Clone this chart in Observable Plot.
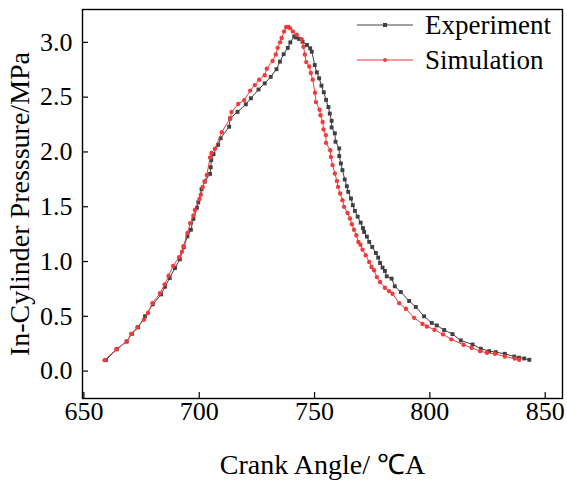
<!DOCTYPE html>
<html><head><meta charset="utf-8">
<script src="https://cdn.jsdelivr.net/npm/d3@7"></script>
<script src="https://cdn.jsdelivr.net/npm/@observablehq/plot@0.6"></script>
<style>body{margin:0;background:#fff;}</style>
</head><body><div id="chart"></div>
<script>
const expAngle = [659.5,664.3,668.5,670.8,673.5,676.5,679.9,683.5,685.2,687.2,689.5,691.6,693.3,694.9,696.4,697.5,699.0,699.6,701.0,702.4,704.7,705.0,705.2,706.2,708.2,709.3,713.0,713.4,716.6,720.2,722.4,725.7,728.4,731.0,733.5,735.0,736.6,738.4,739.5,741.2,741.9,743.3,744.8,746.7,748.1,748.8,750.1,751.0,752.0,753.0,754.0,755.0,756.0,756.6,757.4,757.4,758.8,759.1,760.7,760.7,761.4,762.1,763.1,764.0,764.6,765.8,766.6,767.5,768.7,770.0,771.0,771.5,772.7,773.7,775.0,776.6,777.6,778.4,779.5,780.5,781.3,783.4,784.8,787.4,791.0,793.9,797.5,800.8,803.0,806.2,809.8,813.4,818.5,822.1,825.7,828.6,832.5,836.6,838.7,840.9,843.1];
const expPressure = [0.10,0.20,0.27,0.34,0.40,0.50,0.61,0.70,0.77,0.85,0.94,1.02,1.13,1.23,1.29,1.39,1.49,1.54,1.66,1.73,1.80,1.86,1.925,1.98,2.065,2.125,2.23,2.305,2.366,2.435,2.49,2.57,2.626,2.685,2.755,2.824,2.892,2.95,3.00,3.055,3.045,3.031,3.006,2.976,2.946,2.915,2.793,2.726,2.672,2.605,2.545,2.475,2.41,2.35,2.284,2.224,2.170,2.093,2.032,1.962,1.895,1.834,1.749,1.687,1.636,1.575,1.514,1.462,1.41,1.355,1.305,1.270,1.227,1.179,1.133,1.078,1.036,0.987,0.945,0.914,0.865,0.844,0.774,0.722,0.640,0.585,0.500,0.44,0.417,0.375,0.338,0.280,0.243,0.204,0.182,0.173,0.158,0.133,0.122,0.115,0.103];
const simAngle = [659.0,664.1,668.6,670.5,673.2,676.1,677.8,679.7,683.0,685.0,686.7,688.7,691.3,692.5,693.2,694.9,696.1,697.5,698.1,700.1,700.7,701.5,702.4,703.3,704.7,705.3,706.8,709.8,713.5,714.0,716.9,719.5,722.1,724.1,726.0,728.4,729.3,731.8,733.2,734.0,735.1,735.7,736.8,737.7,738.7,739.4,740.6,742.3,744.4,745.2,745.8,746.4,747.7,748.4,749.2,750.2,750.6,752.2,752.6,753.5,753.9,754.9,755.0,756.8,757.1,757.8,758.8,759.7,760.2,761.1,762.1,762.8,764.3,765.4,766.2,767.1,768.1,769.0,769.9,770.8,772.2,773.7,774.7,775.8,777.0,778.4,780.5,782.3,783.8,786.7,789.6,793.2,796.8,798.7,802.0,805.7,809.3,814.6,818.1,821.8,824.7,828.2,832.5,836.8,838.7];
const simPressure = [0.10,0.20,0.27,0.34,0.40,0.47,0.53,0.62,0.71,0.79,0.87,0.96,1.04,1.09,1.14,1.26,1.35,1.42,1.47,1.57,1.61,1.68,1.73,1.79,1.95,1.99,2.03,2.18,2.31,2.365,2.437,2.473,2.56,2.61,2.66,2.70,2.76,2.83,2.89,2.95,3.00,3.04,3.10,3.14,3.14,3.13,3.10,3.07,3.03,2.96,2.89,2.82,2.78,2.72,2.66,2.54,2.455,2.385,2.335,2.274,2.206,2.154,2.083,2.016,1.955,1.880,1.804,1.736,1.681,1.621,1.560,1.499,1.443,1.392,1.340,1.290,1.240,1.179,1.153,1.109,1.057,0.996,0.950,0.920,0.858,0.813,0.761,0.730,0.706,0.620,0.569,0.486,0.431,0.407,0.378,0.335,0.29,0.240,0.213,0.182,0.167,0.158,0.133,0.115,0.103];
const xTicks = [650, 700, 750, 800, 850];
const yTicks = [0, 0.5, 1.0, 1.5, 2.0, 2.5, 3.0];
const seriesNames = ["Experiment", "Simulation"];
const seriesColors = ["#404040", "#ef3b3b"];
const xTitle = "Crank Angle/ \u2103A";
const yTitle = "In-Cylinder Presssure/MPa";

const exp = expAngle.map((x, i) => ({x, y: expPressure[i]}));
const sim = simAngle.map((x, i) => ({x, y: simPressure[i]}));

const FONT = "Liberation Serif";
const plot = Plot.plot({
  width: 567, height: 480,
  marginLeft: 82, marginRight: 5, marginTop: 9, marginBottom: 82,
  style: {fontFamily: FONT, fontSize: "26px"},
  x: {domain: [649.4, 857.5]},
  y: {domain: [-0.25, 3.3]},
  marks: [
    Plot.axisX({ticks: xTicks, tickSize: -6, tickPadding: 9, label: null, tickFormat: d => String(d), strokeWidth: 1.2}),
    Plot.axisY({ticks: yTicks, tickSize: -6, tickPadding: 16, label: null, tickFormat: d3.format(".1f"), strokeWidth: 1.2}),
    Plot.line(exp, {x: "x", y: "y", stroke: seriesColors[0], strokeWidth: 1}),
    Plot.dot(exp, {x: "x", y: "y", symbol: "square", r: 2.2, fill: seriesColors[0], stroke: null}),
    Plot.line(sim, {x: "x", y: "y", stroke: seriesColors[1], strokeWidth: 1}),
    Plot.dot(sim, {x: "x", y: "y", r: 2.2, fill: seriesColors[1], stroke: null}),
    Plot.frame({stroke: "black", strokeWidth: 1.4}),
    Plot.text([xTitle], {frameAnchor: "bottom", dy: 67, lineAnchor: "middle", textAnchor: "middle", fontSize: 28, fill: "black"}),
    Plot.text([yTitle], {frameAnchor: "left", rotate: -90, dx: -62, lineAnchor: "middle", textAnchor: "middle", fontSize: 28, fill: "black"})
  ]
});
document.getElementById("chart").appendChild(plot);

const svg = d3.select(plot);
const lg = svg.append("g").attr("class", "legend").attr("text-anchor", "start");
seriesNames.forEach((name, i) => {
  const y = 25 + i * 35;
  lg.append("line").attr("x1", 357).attr("x2", 413).attr("y1", y).attr("y2", y)
    .attr("stroke", seriesColors[i]).attr("stroke-width", 1);
  if (i === 0) {
    lg.append("rect").attr("x", 383).attr("y", y - 2).attr("width", 4).attr("height", 4).attr("fill", seriesColors[i]);
  } else {
    lg.append("circle").attr("cx", 385).attr("cy", y).attr("r", 2).attr("fill", seriesColors[i]);
  }
  lg.append("text").attr("x", 425).attr("y", y + 9).attr("font-size", 27).text(name);
});

// force font resolution / layout so the serif face is used at paint time
const texts = Array.from(plot.querySelectorAll("text"));
texts.forEach(t => { getComputedStyle(t).fontFamily; t.getComputedTextLength(); });
document.fonts.check("26px 'Liberation Serif'");
</script>
</body></html>
